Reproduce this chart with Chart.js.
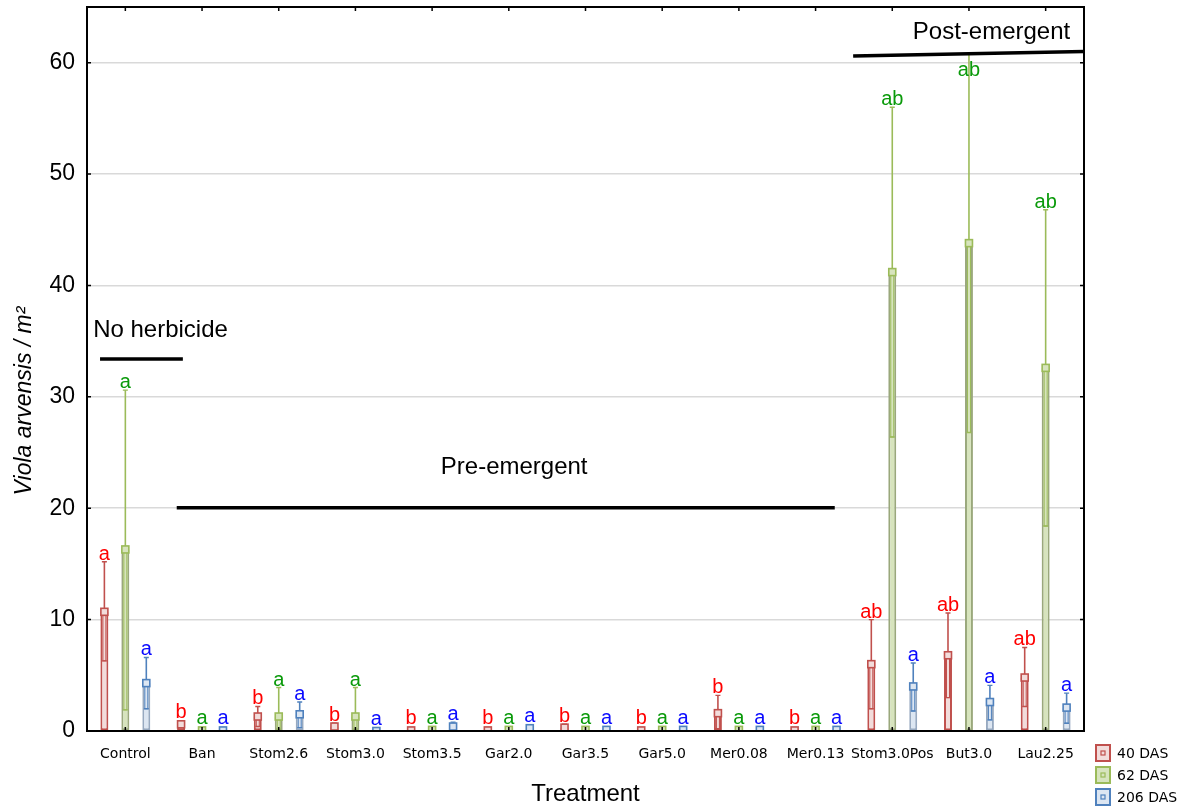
<!DOCTYPE html>
<html>
<head>
<meta charset="utf-8">
<script src="https://cdn.jsdelivr.net/npm/chart.js@4/dist/chart.umd.min.js"></script>
<style>
  html, body { margin: 0; padding: 0; background: #fff; }
  #wrap { width: 1187px; height: 809px; }
</style>
</head>
<body>
<div id="wrap"><canvas id="c" width="1187" height="809"></canvas></div>
<script>
// Treatments on the x axis
const categories = ['Control', 'Ban', 'Stom2.6', 'Stom3.0', 'Stom3.5', 'Gar2.0', 'Gar3.5',
  'Gar5.0', 'Mer0.08', 'Mer0.13', 'Stom3.0Pos', 'But3.0', 'Lau2.25'];
const seriesNames = ['40 DAS', '62 DAS', '206 DAS'];
const yTicks = [0, 10, 20, 30, 40, 50, 60];

// Means with lower / upper confidence limits (plants per m²)
const mean40 = [10.7, 0.6, 1.3, 0.4, 0.05, 0.05, 0.3, 0.05, 1.6, 0.05, 6.0, 6.8, 4.8];
const low40  = [6.3, 0.3, 0.4, 0.1, 0.0, 0.0, 0.0, 0.0, 0.2, 0.0, 2.0, 3.0, 2.2];
const high40 = [15.2, 0.9, 2.2, 0.7, 0.1, 0.1, 0.6, 0.1, 3.2, 0.1, 10.0, 10.6, 7.5];

const mean62 = [16.3, 0.05, 1.3, 1.3, 0.1, 0.1, 0.1, 0.1, 0.1, 0.1, 41.2, 43.8, 32.6];
const low62  = [1.9, 0.0, 0.0, 0.0, 0.0, 0.0, 0.0, 0.0, 0.0, 0.0, 26.4, 26.8, 18.4];
const high62 = [30.6, 0.1, 3.9, 3.9, 0.2, 0.2, 0.2, 0.2, 0.2, 0.2, 56.0, 60.8, 46.8];

const mean206 = [4.3, 0.05, 1.5, 0.0, 0.4, 0.25, 0.1, 0.1, 0.1, 0.1, 4.0, 2.6, 2.1];
const low206  = [2.0, 0.0, 0.3, 0.0, 0.1, 0.0, 0.0, 0.0, 0.0, 0.0, 1.8, 1.0, 0.7];
const high206 = [6.6, 0.1, 2.6, 0.0, 0.8, 0.5, 0.2, 0.2, 0.2, 0.2, 6.1, 4.1, 3.4];

// Significance letters
const letters40  = ['a', 'b', 'b', 'b', 'b', 'b', 'b', 'b', 'b', 'b', 'ab', 'ab', 'ab'];
const letters62  = ['a', 'a', 'a', 'a', 'a', 'a', 'a', 'a', 'a', 'a', 'ab', 'ab', 'ab'];
const letters206 = ['a', 'a', 'a', 'a', 'a', 'a', 'a', 'a', 'a', 'a', 'a', 'a', 'a'];

const styles = [
  { fill: '#f2dcdb', border: '#c0504d', whisker: '#c0504d', letter: '#ff0000', legendBorder: '#c0504d' },
  { fill: '#d7e4bd', border: '#9aa87c', whisker: '#9bbb59', letter: '#0a9a0a', legendBorder: '#9bbb59' },
  { fill: '#dce6f2', border: '#97a9c0', whisker: '#4f81bd', letter: '#0a0aff', legendBorder: '#4f81bd' }
];
const seriesData = [
  { mean: mean40, low: low40, high: high40, letters: letters40 },
  { mean: mean62, low: low62, high: high62, letters: letters62 },
  { mean: mean206, low: low206, high: high206, letters: letters206 }
];

// Treatment-group annotations (x in category units, y in data units)
const groupNotes = [
  { text: 'No herbicide', align: 'left', tx: -0.42, ty: 36.0, x1: -0.33, y1: 33.4, x2: 0.75, y2: 33.4 },
  { text: 'Pre-emergent', align: 'center', tx: 5.07, ty: 23.7, x1: 0.67, y1: 20.05, x2: 9.25, y2: 20.05 },
  { text: 'Post-emergent', align: 'right', tx: 12.32, ty: 62.7, x1: 9.49, y1: 60.6, x2: 12.5, y2: 61.0 }
];
const labelCeiling = 58.6;
const SANS = "'Liberation Sans', Arial, sans-serif";

const decor = {
  id: 'decor',
  afterDatasetsDraw(chart) {
    const { ctx, chartArea: ca, scales: { x: xs, y: ys } } = chart;

    // error bars and mean markers
    ctx.save();
    ctx.beginPath();
    ctx.rect(ca.left, ca.top, ca.right - ca.left, ca.bottom - ca.top);
    ctx.clip();
    seriesData.forEach((s, i) => {
      const st = styles[i];
      const meta = chart.getDatasetMeta(i);
      meta.data.forEach((el, j) => {
        const x = el.x;
        const yM = ys.getPixelForValue(s.mean[j]);
        const yL = ys.getPixelForValue(s.low[j]);
        const yH = ys.getPixelForValue(s.high[j]);
        ctx.strokeStyle = st.whisker;
        ctx.lineWidth = 1;
        if (yL - yM > 2) {
          // lower half of the interval, drawn as a narrow box inside the bar
          ctx.strokeRect(x - 1.5, yM, 3, yL - yM);
        } else {
          ctx.beginPath();
          ctx.moveTo(x, yL); ctx.lineTo(x, yM);
          ctx.stroke();
        }
        ctx.lineWidth = 1.6;
        ctx.beginPath();
        ctx.moveTo(x, yM);
        ctx.lineTo(x, yH);
        ctx.stroke();
        ctx.lineWidth = 1.4;
        ctx.beginPath();
        ctx.moveTo(x - 2.5, yH); ctx.lineTo(x + 2.5, yH);
        ctx.moveTo(x - 2.5, yL); ctx.lineTo(x + 2.5, yL);
        ctx.stroke();
        // mean marker
        ctx.fillStyle = st.fill;
        ctx.fillRect(x - 3.5, yM - 3.5, 7, 7);
        ctx.lineWidth = 1.6;
        ctx.strokeRect(x - 3.5, yM - 3.5, 7, 7);
      });
    });
    ctx.restore();

    // significance letters
    ctx.save();
    ctx.font = '20px ' + SANS;
    ctx.textAlign = 'center';
    ctx.textBaseline = 'alphabetic';
    seriesData.forEach((s, i) => {
      const meta = chart.getDatasetMeta(i);
      ctx.fillStyle = styles[i].letter;
      meta.data.forEach((el, j) => {
        const yTop = ys.getPixelForValue(Math.min(s.high[j], labelCeiling)) - 2;
        const yMk = ys.getPixelForValue(s.mean[j]) - 6;
        ctx.fillText(s.letters[j], el.x, Math.min(yTop, yMk));
      });
    });
    ctx.restore();
  },
  afterDraw(chart) {
    const { ctx, chartArea: ca, scales: { x: xs, y: ys } } = chart;
    ctx.save();
    // frame
    ctx.strokeStyle = '#000';
    ctx.lineWidth = 2;
    ctx.strokeRect(ca.left, ca.top, ca.right - ca.left, ca.bottom - ca.top);
    // inward tick marks
    ctx.lineWidth = 1.5;
    ctx.beginPath();
    yTicks.forEach(v => {
      const y = ys.getPixelForValue(v);
      ctx.moveTo(ca.left, y); ctx.lineTo(ca.left + 4, y);
      ctx.moveTo(ca.right, y); ctx.lineTo(ca.right - 4, y);
    });
    categories.forEach((c, i) => {
      const x = xs.getPixelForValue(i);
      ctx.moveTo(x, ca.bottom); ctx.lineTo(x, ca.bottom - 4);
      ctx.moveTo(x, ca.top); ctx.lineTo(x, ca.top + 4);
    });
    ctx.stroke();

    // group annotations
    ctx.fillStyle = '#000';
    ctx.font = '24px ' + SANS;
    ctx.textBaseline = 'middle';
    groupNotes.forEach(n => {
      ctx.textAlign = n.align;
      ctx.fillText(n.text, xs.getPixelForValue(n.tx), ys.getPixelForValue(n.ty));
      ctx.lineWidth = 3.5;
      ctx.beginPath();
      ctx.moveTo(xs.getPixelForValue(n.x1), ys.getPixelForValue(n.y1));
      ctx.lineTo(Math.min(xs.getPixelForValue(n.x2), ca.right), ys.getPixelForValue(n.y2));
      ctx.stroke();
    });

    // y-axis title
    ctx.save();
    ctx.translate(25, 401);
    ctx.rotate(-Math.PI / 2);
    ctx.font = 'italic 23px ' + SANS;
    ctx.textAlign = 'center';
    ctx.textBaseline = 'middle';
    ctx.fillText('Viola arvensis / m\u00B2', 0, 0);
    ctx.restore();

    // legend
    ctx.font = "14px 'DejaVu Sans', sans-serif";
    ctx.textAlign = 'left';
    ctx.textBaseline = 'middle';
    seriesNames.forEach((name, i) => {
      const st = styles[i];
      const cy = 753 + i * 22;
      ctx.fillStyle = st.fill;
      ctx.fillRect(1096, cy - 8, 14, 16);
      ctx.strokeStyle = st.legendBorder;
      ctx.lineWidth = 2;
      ctx.strokeRect(1096, cy - 8, 14, 16);
      ctx.lineWidth = 1.2;
      ctx.strokeRect(1101, cy - 2, 4, 4);
      ctx.fillStyle = '#000';
      ctx.fillText(name, 1117, cy + 1);
    });
    ctx.restore();
  }
};

new Chart(document.getElementById('c'), {
  type: 'bar',
  data: {
    labels: categories,
    datasets: seriesData.map((s, i) => ({
      label: seriesNames[i],
      data: s.mean,
      backgroundColor: styles[i].fill,
      borderColor: styles[i].border,
      borderWidth: 2,
      borderSkipped: false,
      categoryPercentage: 0.82,
      barPercentage: 0.38
    }))
  },
  options: {
    responsive: false,
    animation: false,
    devicePixelRatio: 1,
    layout: { padding: { left: 0, right: 103, top: 7, bottom: 0 } },
    plugins: { legend: { display: false }, tooltip: { enabled: false } },
    scales: {
      x: {
        grid: { display: false, drawTicks: false },
        border: { display: false },
        ticks: {
          font: { family: "'DejaVu Sans', sans-serif", size: 14 },
          color: '#000', padding: 15, autoSkip: false, maxRotation: 0
        },
        title: {
          display: true, text: 'Treatment', color: '#000',
          font: { family: SANS, size: 24 }, padding: { top: 0, bottom: 0 }
        },
        afterFit(s) { s.height = 78; s.paddingLeft = 0; s.paddingRight = 0; }
      },
      y: {
        min: 0, max: 65,
        afterBuildTicks(s) { s.ticks = yTicks.map(v => ({ value: v })); },
        grid: { color: '#d9d9d9', lineWidth: 1.5, drawTicks: false },
        border: { display: false },
        ticks: { font: { family: SANS, size: 23 }, color: '#000', padding: 12 },
        afterFit(s) { s.width = 87; s.paddingTop = 0; s.paddingBottom = 0; }
      }
    }
  },
  plugins: [decor]
});
</script>
</body>
</html>
